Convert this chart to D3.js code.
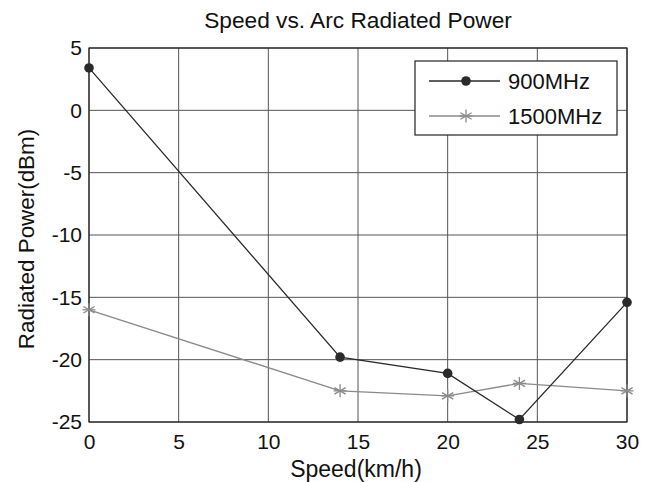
<!DOCTYPE html>
<html>
<head>
<meta charset="utf-8">
<script src="https://cdn.jsdelivr.net/npm/d3@7"></script>
<style>
  body { margin: 0; background: #fff; }
  text { font-family: "Liberation Sans", Arial, sans-serif; fill: #111; }
</style>
</head>
<body>
<svg id="chart" width="653" height="482"></svg>
<script>
// Speed (km/h) at which power was measured
const speeds = [0, 14, 20, 24, 30];
// Radiated power (dBm) per carrier frequency
const power900 = [3.4, -19.8, -21.1, -24.8, -15.4];
const power1500 = [-16.0, -22.5, -22.9, -21.9, -22.5];
const seriesNames = ["900MHz", "1500MHz"];
const xTicks = [0, 5, 10, 15, 20, 25, 30];
const yTicks = [5, 0, -5, -10, -15, -20, -25];

const svg = d3.select("#chart");
const margin = { left: 89, right: 26, top: 48, bottom: 60 };
const W = 653, H = 482;
const x = d3.scaleLinear().domain([0, 30]).range([margin.left, W - margin.right]);
const y = d3.scaleLinear().domain([-25, 5]).range([H - margin.bottom, margin.top]);

const g = svg.append("g");

// grid
g.append("g").selectAll("line").data(xTicks).join("line")
  .attr("x1", d => x(d)).attr("x2", d => x(d))
  .attr("y1", y(-25)).attr("y2", y(5))
  .attr("stroke", "#555").attr("stroke-width", 1);
g.append("g").selectAll("line").data(yTicks).join("line")
  .attr("x1", x(0)).attr("x2", x(30))
  .attr("y1", d => y(d)).attr("y2", d => y(d))
  .attr("stroke", "#555").attr("stroke-width", 1);

// axes
const fmt = d => String(d);
const xAxis = d3.axisBottom(x).tickValues(xTicks).tickFormat(fmt).tickSize(0).tickPadding(0);
const yAxis = d3.axisLeft(y).tickValues(yTicks).tickFormat(fmt).tickSize(0).tickPadding(7);
const xa = g.append("g").attr("transform", `translate(0,${y(-25)})`).call(xAxis);
const ya = g.append("g").attr("transform", `translate(${x(0)},0)`).call(yAxis);
[xa, ya].forEach(a => {
  a.select(".domain").remove();
  a.selectAll("text").style("font-size", "21px")
    .style("font-family", '"Liberation Sans", Arial, sans-serif').attr("fill", "#111");
});
xa.selectAll("text").attr("dy", null).attr("y", 27);

// frame
g.append("rect")
  .attr("x", x(0)).attr("y", y(5))
  .attr("width", x(30) - x(0)).attr("height", y(-25) - y(5))
  .attr("fill", "none").attr("stroke", "#222").attr("stroke-width", 1.2);

// lines
const line = d3.line().x(d => x(d[0])).y(d => y(d[1]));
const d900 = speeds.map((s, i) => [s, power900[i]]);
const d1500 = speeds.map((s, i) => [s, power1500[i]]);
const col900 = "#2a2a2a", col1500 = "#8a8a8a";

g.append("path").datum(d1500).attr("d", line)
  .attr("fill", "none").attr("stroke", col1500).attr("stroke-width", 1.3);
g.append("path").datum(d900).attr("d", line)
  .attr("fill", "none").attr("stroke", col900).attr("stroke-width", 1.3);

function star(sel, cx, cy, r, color) {
  const s = sel.append("g").attr("transform", `translate(${cx},${cy})`)
    .attr("stroke", color).attr("stroke-width", 1.3);
  [0, 60, 120].forEach(a => {
    const rad = a * Math.PI / 180;
    s.append("line")
      .attr("x1", -r * Math.sin(rad)).attr("y1", -r * Math.cos(rad))
      .attr("x2", r * Math.sin(rad)).attr("y2", r * Math.cos(rad));
  });
  s.append("line").attr("x1", -r).attr("x2", r).attr("y1", 0).attr("y2", 0);
}

d1500.forEach(d => star(g, x(d[0]), y(d[1]), 6.5, col1500));
g.append("g").selectAll("circle").data(d900).join("circle")
  .attr("cx", d => x(d[0])).attr("cy", d => y(d[1])).attr("r", 4.8)
  .attr("fill", col900);

// legend
const lg = g.append("g");
lg.append("rect").attr("x", 415).attr("y", 61).attr("width", 202).attr("height", 74)
  .attr("fill", "#fff").attr("stroke", "#222").attr("stroke-width", 1.2);
const ly = [81, 116];
lg.append("line").attr("x1", 429).attr("x2", 500).attr("y1", ly[0]).attr("y2", ly[0])
  .attr("stroke", col900).attr("stroke-width", 1.3);
lg.append("circle").attr("cx", 466).attr("cy", ly[0]).attr("r", 4.8).attr("fill", col900);
lg.append("line").attr("x1", 429).attr("x2", 500).attr("y1", ly[1]).attr("y2", ly[1])
  .attr("stroke", col1500).attr("stroke-width", 1.3);
star(lg, 466, ly[1], 6.5, col1500);
seriesNames.forEach((n, i) => {
  lg.append("text").attr("x", 508).attr("y", ly[i] + 8)
    .style("font-size", "22px").text(n);
});

// titles
svg.append("text").attr("x", 358).attr("y", 28)
  .attr("text-anchor", "middle").style("font-size", "22.7px")
  .text("Speed vs. Arc Radiated Power");
svg.append("text").attr("x", 356).attr("y", 477)
  .attr("text-anchor", "middle").style("font-size", "23px")
  .text("Speed(km/h)");
svg.append("text")
  .attr("transform", `translate(34,239) rotate(-90)`)
  .attr("text-anchor", "middle").style("font-size", "22.4px")
  .text("Radiated Power(dBm)");
</script>
</body>
</html>
